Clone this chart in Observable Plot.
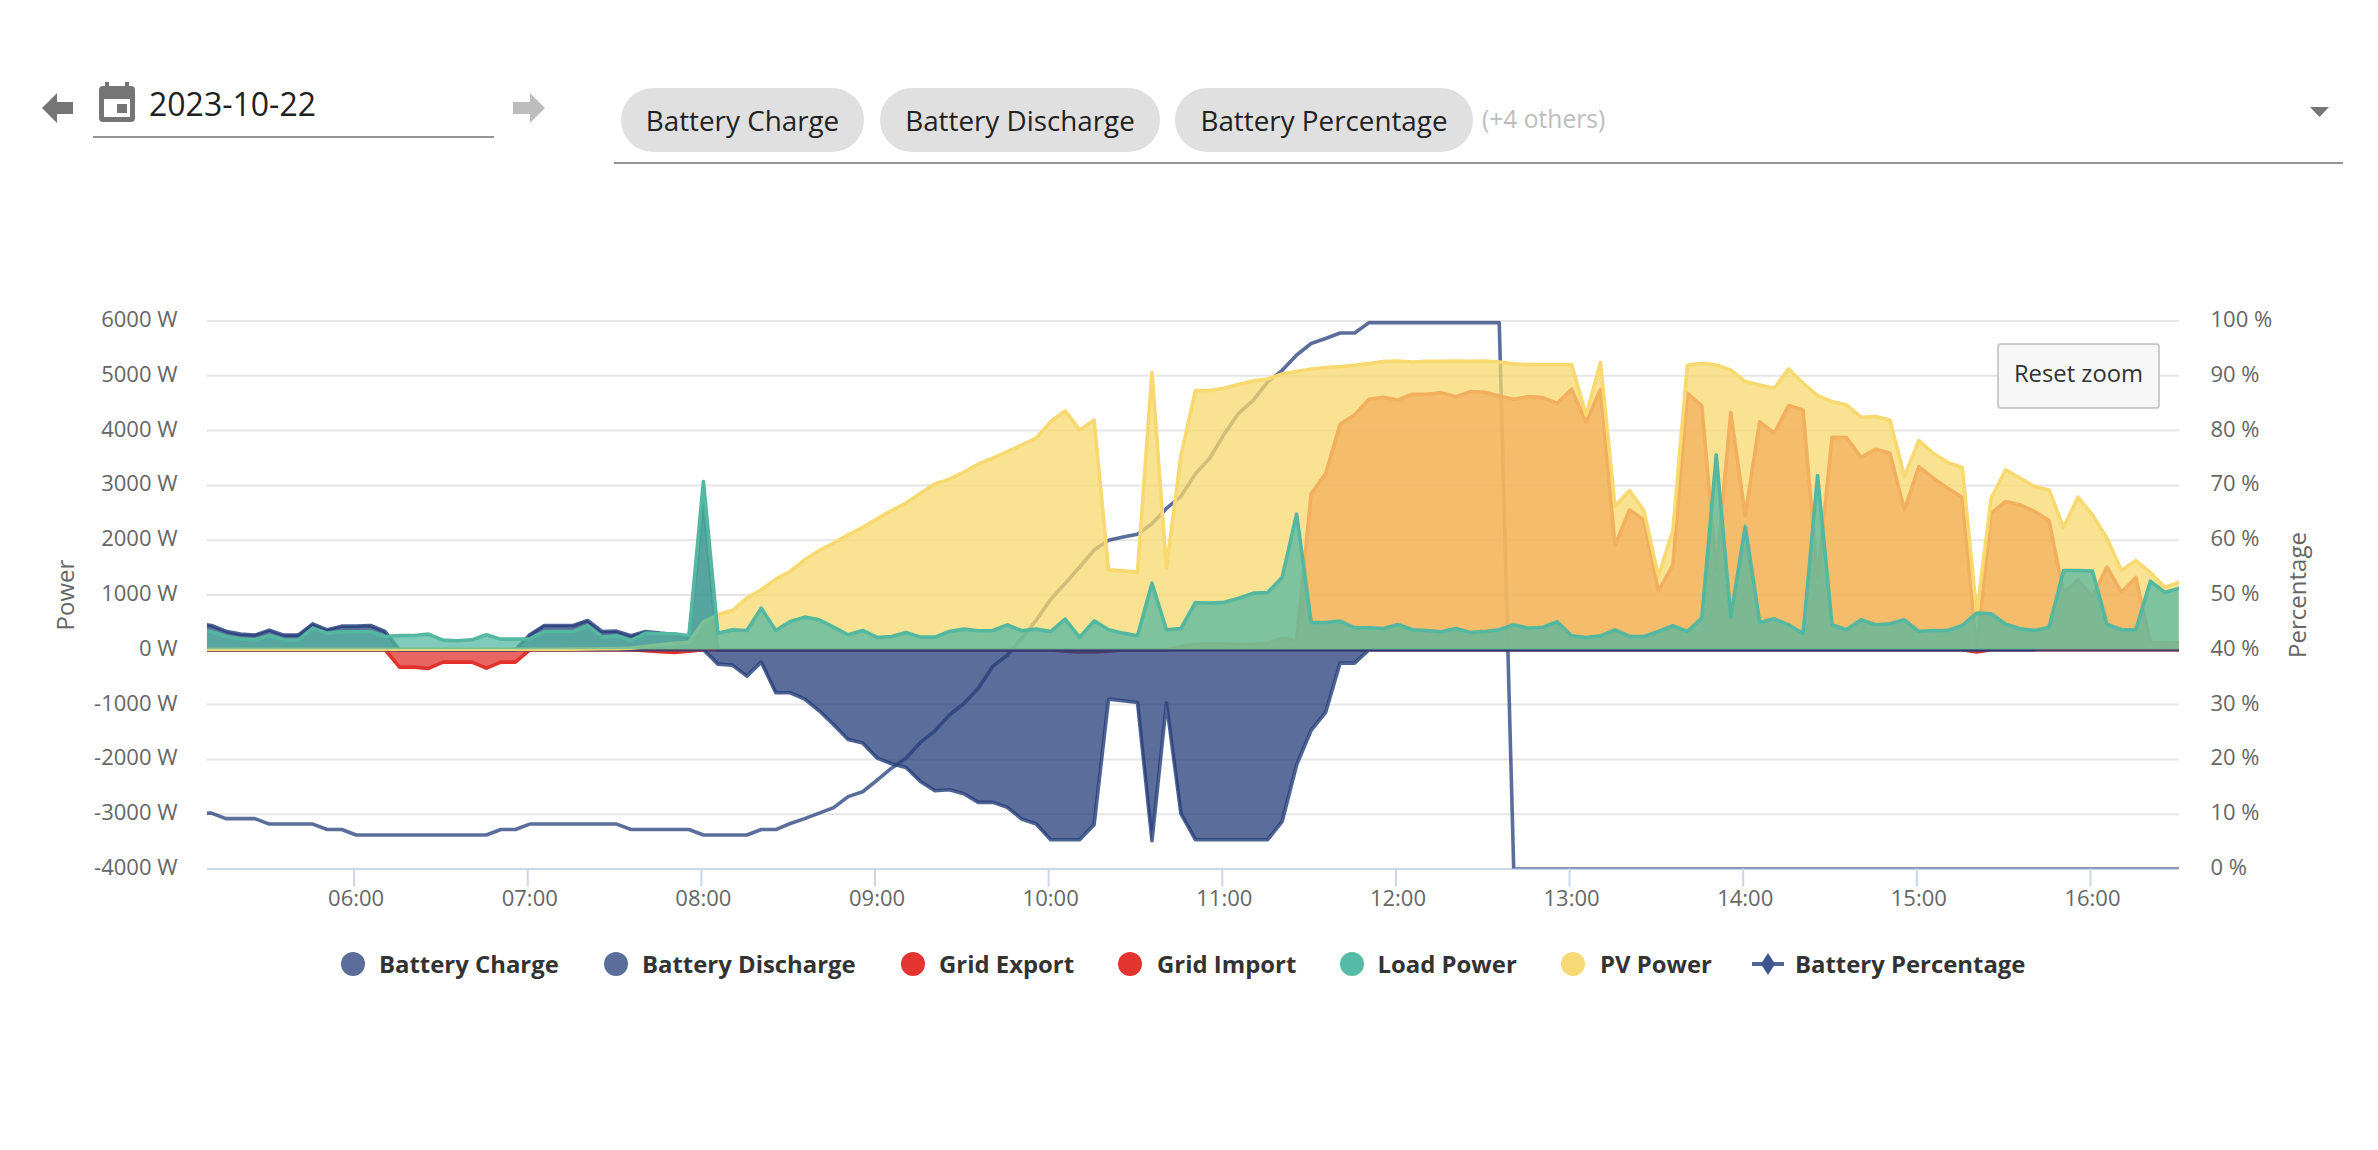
<!DOCTYPE html>
<html><head><meta charset="utf-8">
<script src="https://cdn.jsdelivr.net/npm/d3@7"></script>
<script src="https://cdn.jsdelivr.net/npm/@observablehq/plot@0.6"></script>
<style>
html,body{margin:0;padding:0;background:#fff;width:2378px;height:1150px;overflow:hidden;font-family:"Open Sans",sans-serif}
#chart{position:absolute;left:0;top:0}
.abs{position:absolute;white-space:nowrap}
.chip{position:absolute;top:88px;height:64px;border-radius:32px;background:#e0e0e0;color:#212121;font-size:27.8px;line-height:64px;text-align:center}
.line{position:absolute;height:2px;background:#949494}
.lg{position:absolute;top:946px;font-size:23.9px;font-weight:700;color:#333;line-height:36px;white-space:nowrap}
.dot{position:absolute;top:952px;width:24px;height:24px;border-radius:50%}
#reset{position:absolute;left:1997px;top:343px;width:163px;height:66px;box-sizing:border-box;border:2px solid #cccccc;border-radius:4px;background:#f7f7f7;color:#333;font-size:23.8px;line-height:56px;text-align:center}
</style></head>
<body>
<svg class="abs" style="left:0;top:0" width="560" height="170">
  <path d="M42 108 L57 93 L57 102 L73 102 L73 114 L57 114 L57 123 Z" fill="#757575"/>
  <path d="M545 108 L530 93 L530 102 L513 102 L513 114 L530 114 L530 123 Z" fill="#bdbdbd"/>
  <path d="M105 82h4v4h16v-4h4v4h2a4 4 0 0 1 4 4v28a4 4 0 0 1-4 4h-28a4 4 0 0 1-4-4v-28a4 4 0 0 1 4-4h2z" fill="#757575"/>
  <rect x="104" y="99" width="26" height="18" fill="#fff"/>
  <rect x="117" y="104" width="10" height="9" fill="#757575"/>
</svg>
<div class="abs" style="left:149px;top:82px;font-size:32px;line-height:44px;color:#212121">2023-10-22</div>
<div class="line" style="left:93px;top:136px;width:401px"></div>
<div class="chip" style="left:621px;width:243px">Battery Charge</div>
<div class="chip" style="left:880px;width:280px">Battery Discharge</div>
<div class="chip" style="left:1175px;width:298px">Battery Percentage</div>
<div class="abs" style="left:1482px;top:100px;font-size:24.6px;line-height:38px;color:#bdbdbd">(+4 others)</div>
<svg class="abs" style="left:2305px;top:101px" width="30" height="22"><path d="M5 6H24L14.5 16Z" fill="#757575"/></svg>
<div class="line" style="left:614px;top:162px;width:1729px"></div>
<div id="chart"></div>
<div id="reset">Reset zoom</div>
<div id="legend"></div>
<script>
const tickLabels = ["06:00","07:00","08:00","09:00","10:00","11:00","12:00","13:00","14:00","15:00","16:00"];
const powerTicks = [6000,5000,4000,3000,2000,1000,0,-1000,-2000,-3000,-4000];
const percentTicks = [100,90,80,70,60,50,40,30,20,10,0];

const batteryCharge = [
480,444,340,286,268,359,268,268,474,365,
432,432,444,334,0,0,0,0,0,0,
0,0,0,273,444,444,444,535,334,340,
255,334,304,280,213,2700,0,0,0,0,
0,0,0,0,0,0,0,0,0,0, 0,0,0,0,0,0,0,0,0,0,
0,0,0,0,0,0,0,0,0,0, 0,0,0,0,0,0,0,0,0,0,
0,0,0,0,0,0,0,0,0,0, 0,0,0,0,0,0,0,0,0,0,
0,0,0,0,0,0,0,0,0,0, 0,0,0,0,0,0,0,0,0,0,
0,0,0,0,0,0,0,0,0,0, 0,0,0,0,0,0,0,0];
const batteryDischarge = [
0,0,0,0,0,0,0,0,0,0, 0,0,0,0,0,0,0,0,0,0, 0,0,0,0,0,0,0,0,0,0,
0,0,0,0,0,0,-261,-280,-480,-225,
-784,-784,-900,-1113,-1368,-1635,-1702,-1976,-2079,-2146,
-2402,-2572,-2554,-2627,-2785,-2785,-2876,-3089,-3180,-3466,
-3466,-3466,-3192,-900,-930,-961,-3484,-973,-2991,-3466,
-3466,-3466,-3466,-3466,-3466,-3131,-2098,-1471,-1143,-243,
-243,0,0,0,0,0,0,0,0,0,
0,0,0,0,0,0,0,0,0,0, 0,0,0,0,0,0,0,0,0,0,
0,0,0,0,0,0,0,0,0,0, 0,0,0,0,0,0,0,0];
const gridExport = [
0,0,0,0,0,0,0,0,0,0, 0,0,0,0,0,0,0,0,0,0, 0,0,0,0,0,0,0,0,0,0,
0,0,0,0,0,0,0,0,0,0, 0,0,0,0,0,0,0,0,0,0, 0,0,0,0,0,0,0,0,0,0,
0,0,0,0,0,0,0,0,60,100,
110,105,100,100,120,213,170,2845,3210,4116,
4286,4572,4608,4560,4663,4663,4693,4620,4712,4700,
4632,4572,4620,4602,4500,4754,4152,4754,1903,2554,
2371,1076,1550,4682,4451,1459,4329,2450,4165,3952,
4457,4378,1277,3879,3873,3514,3660,3587,2554,3344,
3131,2949,2779,0,2493,2706,2645,2523,2359,1034,
1277,973,1508,1052,1319,134,122,134];
const gridImport = [
0,0,0,0,0,0,0,0,0,0,
0,0,0,0,-316,-316,-340,-225,-225,-225,
-334,-225,-225,0,0,0,0,0,0,0,
0,-18,-36,-48,-24,0,0,0,0,0,
0,0,0,0,0,0,0,0,0,0, 0,0,0,0,0,0,0,0,0,0,
-25,-40,-40,-25,0,0,0,0,0,0,
0,0,0,0,0,0,0,0,0,0, 0,0,0,0,0,0,0,0,0,0,
0,0,0,0,0,0,0,0,0,0, 0,0,0,0,0,0,0,0,0,0,
0,0,0,0,0,0,0,0,0,0,
0,0,0,-40,0,0,0,0,0,0,
0,0,0,0,0,0,0,0];
const loadPower = [
360,334,243,200,182,261,182,176,395,304,
328,328,334,243,261,261,286,176,164,182,
274,195,195,200,334,334,334,438,231,255,
170,304,292,292,255,3070,304,365,353,760,
353,517,596,547,413,274,353,225,243,316,
231,231,334,377,347,353,456,347,377,334,
559,225,529,365,304,255,1216,365,390,863,
851,866,942,1034,1046,1325,2475,499,499,523,
401,401,389,462,365,353,328,389,316,334,
365,456,395,407,511,255,225,255,365,243,
243,334,438,334,578,3557,596,2250,499,565,
456,292,3180,456,365,547,456,474,547,334,
353,353,444,669,657,468,383,353,413,1447,
1447,1435,468,365,365,1252,1046,1125];
const pvPower = [
10,10,10,10,10,10,10,10,10,10,
10,10,10,10,10,10,10,10,10,10,
10,10,10,10,10,10,12,15,18,22,
30,60,90,120,135,505,640,717,942,1094,
1289,1429,1642,1812,1946,2098,2231,2389,2541,2675,
2858,3028,3113,3241,3393,3496,3618,3739,3861,4165,
4359,4013,4189,1459,1441,1417,5065,1490,3540,4730,
4730,4773,4846,4907,4943,5034,5077,5125,5150,5168,
5192,5223,5259,5271,5253,5265,5265,5271,5265,5271,
5253,5217,5204,5204,5204,5204,4286,5241,2614,2906,
2535,1338,2180,5190,5229,5198,5107,4894,4834,4773,
5125,4864,4639,4530,4469,4244,4256,4195,3162,3818,
3587,3417,3326,669,2766,3283,3131,2979,2918,2231,
2785,2462,2037,1447,1629,1411,1143,1234];
const batteryPercentage = [
10.2,10.2,9.2,9.2,9.2,8.2,8.2,8.2,8.2,7.2,
7.2,6.2,6.2,6.2,6.2,6.2,6.2,6.2,6.2,6.2,
6.2,7.2,7.2,8.2,8.2,8.2,8.2,8.2,8.2,8.2,
7.2,7.2,7.2,7.2,7.2,6.2,6.2,6.2,6.2,7.2,
7.2,8.3,9.2,10.2,11.2,13.2,14.1,16.2,18.4,20.2,
23.1,25.2,28.1,30.2,33,37,39,42.1,45.4,49.2,
52.1,55.1,58.2,60,60.6,61.1,63,65.8,68,72.1,
75,79.4,83.2,85.5,88.9,91,93.8,95.9,96.8,97.8,
97.8,99.7,99.7,99.7,99.7,99.7,99.7,99.7,99.7,99.7,
99.7,0,0,0,0,0,0,0,0,0,
0,0,0,0,0,0,0,0,0,0, 0,0,0,0,0,0,0,0,0,0,
0,0,0,0,0,0,0,0,0,0, 0,0,0,0,0,0,0,0];

const day = "2023-10-22T";
const sampleStart = new Date(day + "05:05:42Z");
const times = batteryCharge.map((_, i) => new Date(+sampleStart + i * 300000));
const hourTicks = tickLabels.map(t => new Date(day + t + ":00Z"));

const BLUE = "#243d79", RED = "#e2322d", TEAL = "#54b8a0", YELLOW = "#f7d96f";
const pctToPower = p => -4000 + p * 100;

function series(values, fill, stroke, strokeOpacity) {
  const rows = values.map((v, i) => ({t: times[i], v}));
  return [
    Plot.areaY(rows, {x: "t", y1: 0, y2: "v", fill, fillOpacity: 0.75, clip: "frame"}),
    Plot.line(rows, {x: "t", y: "v", stroke, strokeWidth: 3.6, strokeOpacity, clip: "frame", curve: "linear"})
  ];
}

const chart = Plot.plot({
  width: 2378, height: 1000,
  marginLeft: 207, marginRight: 199, marginTop: 320.5, marginBottom: 131.5,
  style: {fontFamily: '"Open Sans",sans-serif', fontSize: "22px", color: "#666", background: "transparent"},
  x: {type: "utc", domain: [new Date(day + "05:09:20Z"), new Date(day + "16:30:46Z")]},
  y: {domain: [-4000, 6000]},
  marks: [
    Plot.ruleY(powerTicks, {stroke: "#e6e6e6", strokeWidth: 2}),
    Plot.ruleY([-4000], {stroke: "#ccd6eb", strokeWidth: 2}),
    Plot.line(batteryPercentage.map((p, i) => ({t: times[i], p})), {x: "t", y: d => pctToPower(d.p), stroke: BLUE, strokeOpacity: 0.75, strokeWidth: 3.6, clip: "frame"}),
    ...series(gridExport, RED, RED, 1),
    ...series(gridImport, RED, RED, 1),
    ...series(batteryCharge, BLUE, BLUE, 0.8),
    ...series(batteryDischarge, BLUE, BLUE, 0.8),
    ...series(pvPower, YELLOW, YELLOW, 1),
    ...series(loadPower, TEAL, TEAL, 1),
    Plot.axisX(hourTicks, {tickSize: 18, tickFormat: () => "", stroke: "#ccd6eb", strokeWidth: 2, label: null}),
    Plot.axisX(hourTicks, {tickSize: 0, tickPadding: 21, dx: 2, tickFormat: d3.utcFormat("%H:%M"), fill: "#666", label: null}),
    Plot.axisY(powerTicks, {anchor: "left", tickSize: 0, tickPadding: 30, dy: -1, tickFormat: d => d + " W", label: "Power", labelAnchor: "center", labelOffset: 151, labelArrow: "none", fill: "#666"}),
    Plot.axisY(powerTicks, {anchor: "right", tickSize: 0, tickPadding: 31, dy: -1, tickFormat: d => percentTicks[powerTicks.indexOf(d)] + " %", label: "Percentage", labelAnchor: "center", labelOffset: 126, labelArrow: "none", fill: "#666"})
  ]
});
chart.querySelectorAll("text").forEach(t => {
  if (t.textContent === "Power" || t.textContent === "Percentage") t.style.fontSize = "24px";
});
document.getElementById("chart").append(chart);

const legendItems = [
  {name: "Battery Charge", color: "#5b6e9b", dot: 352.5, text: 379},
  {name: "Battery Discharge", color: "#5b6e9b", dot: 615.5, text: 642},
  {name: "Grid Export", color: "#e3342f", dot: 913, text: 939},
  {name: "Grid Import", color: "#e3342f", dot: 1130, text: 1157},
  {name: "Load Power", color: "#55bba7", dot: 1352, text: 1377.5},
  {name: "PV Power", color: "#f7d976", dot: 1573, text: 1600}
];
const lg = document.getElementById("legend");
for (const it of legendItems) {
  const d = document.createElement("div"); d.className = "dot";
  d.style.left = (it.dot - 12) + "px"; d.style.background = it.color; lg.append(d);
  const t = document.createElement("div"); t.className = "lg";
  t.style.left = it.text + "px"; t.textContent = it.name; lg.append(t);
}
const mk = document.createElement("div"); mk.className = "abs"; mk.style.cssText += "left:1752px;top:950px";
mk.innerHTML = '<svg width="32" height="28"><path d="M0 12H32V16H0Z" fill="#4f6498"/><path d="M16 3L23 14L16 25L9 14Z" fill="#3f5590"/></svg>';
lg.append(mk);
const t7 = document.createElement("div"); t7.className = "lg"; t7.style.left = "1795px"; t7.textContent = "Battery Percentage"; lg.append(t7);
</script>
</body></html>
